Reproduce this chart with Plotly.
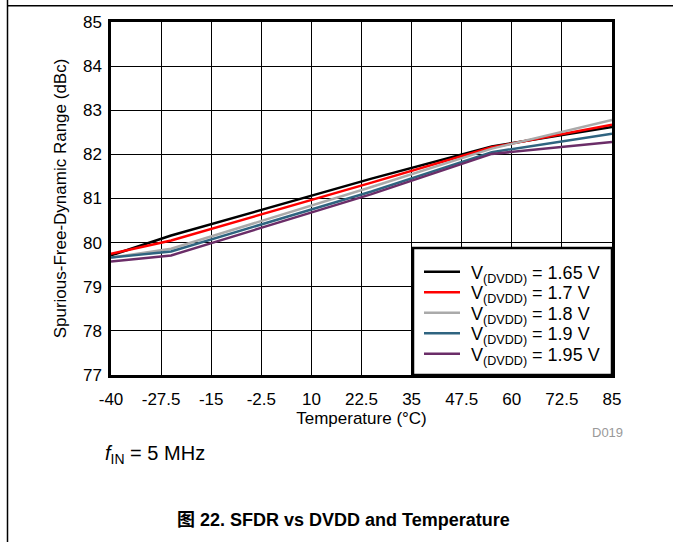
import plotly.graph_objects as go

# ---- data ----
temperature = [-40, -25, 25, 55, 85]
sfdr_165 = [79.71, 80.16, 81.45, 82.18, 82.62]
sfdr_170 = [79.75, 80.05, 81.36, 82.16, 82.67]
sfdr_180 = [79.66, 79.86, 81.26, 82.13, 82.78]
sfdr_190 = [79.66, 79.80, 81.16, 82.05, 82.47]
sfdr_195 = [79.57, 79.71, 81.10, 82.01, 82.28]
series_names = [
    "V<sub>(DVDD)</sub> = 1.65 V",
    "V<sub>(DVDD)</sub> = 1.7 V",
    "V<sub>(DVDD)</sub> = 1.8 V",
    "V<sub>(DVDD)</sub> = 1.9 V",
    "V<sub>(DVDD)</sub> = 1.95 V",
]
series_values = [sfdr_165, sfdr_170, sfdr_180, sfdr_190, sfdr_195]
series_colors = ["#000000", "#ff0000", "#aaaaaa", "#2f6480", "#6b2d68"]

x_ticks = [-40, -27.5, -15, -2.5, 10, 22.5, 35, 47.5, 60, 72.5, 85]
x_tick_labels = ["-40", "-27.5", "-15", "-2.5", "10", "22.5", "35", "47.5", "60", "72.5", "85"]
y_ticks = [77, 78, 79, 80, 81, 82, 83, 84, 85]

FONT = "Liberation Sans, Arial, sans-serif"
W, H = 673, 542
ML, MR, MT, MB = 111, 61, 22, 167
PW, PH = W - ML - MR, H - MT - MB

def px(x):
    return (x - ML) / PW

def py(y):
    return (H - MB - y) / PH

fig = go.Figure()
for name, vals, col in zip(series_names, series_values, series_colors):
    fig.add_trace(go.Scatter(x=temperature, y=vals, mode="lines", name=name,
                             line=dict(color=col, width=2.5), showlegend=False))

fig.update_layout(
    width=W, height=H, autosize=False,
    margin=dict(l=ML, r=MR, t=MT, b=MB, pad=0),
    paper_bgcolor="white", plot_bgcolor="white",
    font=dict(family=FONT, size=17, color="black"),
    showlegend=False,
    xaxis=dict(range=[-40, 85], tickvals=x_ticks, ticktext=x_tick_labels,
               showgrid=True, gridcolor="black", gridwidth=1,
               showline=True, linecolor="black", linewidth=2.5, mirror=True,
               ticks="", zeroline=False, ticklabelstandoff=7,
               tickfont=dict(family=FONT, size=17),
               title=dict(text="Temperature (°C)", font=dict(family=FONT, size=17), standoff=3)),
    yaxis=dict(range=[77, 85], tickvals=y_ticks,
               showgrid=True, gridcolor="black", gridwidth=1,
               showline=True, linecolor="black", linewidth=2.5, mirror=True,
               ticks="", zeroline=False, ticklabelstandoff=3,
               tickfont=dict(family=FONT, size=17),
               title=dict(text="Spurious-Free-Dynamic Range (dBc)", font=dict(family=FONT, size=17), standoff=12)),
)

# manual legend box (bottom-right of plot)
LX0, LX1, LY0, LY1 = 413, 612, 248, 375
fig.add_shape(type="rect", xref="paper", yref="paper",
              x0=px(LX0), x1=px(LX1), y0=py(LY1), y1=py(LY0),
              fillcolor="white", line=dict(color="black", width=2.5), layer="above")
for i, (name, col) in enumerate(zip(series_names, series_colors)):
    ly = 271.7 + 20.5 * i
    fig.add_shape(type="line", xref="paper", yref="paper",
                  x0=px(424), x1=px(460), y0=py(ly), y1=py(ly),
                  line=dict(color=col, width=2.5), layer="above")
    fig.add_annotation(text=name, xref="paper", yref="paper", x=px(469), y=py(ly + 2.5),
                       xanchor="left", yanchor="middle", showarrow=False,
                       font=dict(family=FONT, size=18, color="black"))

# page frame lines
fig.add_shape(type="line", xref="paper", yref="paper",
              x0=px(7.5), x1=px(W), y0=py(5.7), y1=py(5.7),
              line=dict(color="black", width=1.5))
fig.add_shape(type="line", xref="paper", yref="paper",
              x0=px(7.5), x1=px(7.5), y0=py(0), y1=py(H),
              line=dict(color="black", width=1.5))

fig.add_annotation(text="D019", xref="paper", yref="paper", x=px(625), y=py(432),
                   xanchor="right", yanchor="middle", showarrow=False,
                   font=dict(family=FONT, size=13, color="#999999"))
fig.add_annotation(text="<i>f</i><sub>IN</sub> = 5 MHz", xref="paper", yref="paper",
                   x=px(103), y=py(454), xanchor="left", yanchor="middle", showarrow=False,
                   font=dict(family=FONT, size=20, color="black"))
fig.add_annotation(text="<b>图 22. SFDR vs DVDD and Temperature</b>", xref="paper", yref="paper",
                   x=px(343), y=py(520), xanchor="center", yanchor="middle", showarrow=False,
                   font=dict(family="Liberation Sans, Arial, Noto Sans CJK SC, sans-serif", size=18, color="black"))

fig.write_html("out.html", config={"displayModeBar": False},
               post_script="document.body.style.margin='0px';")
